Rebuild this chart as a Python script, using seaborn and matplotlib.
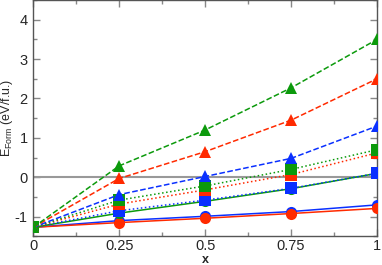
import numpy as np
import pandas as pd
import matplotlib.pyplot as plt
import seaborn as sns
from matplotlib.ticker import MultipleLocator

x = [0, 0.25, 0.5, 0.75, 1]

# dashed lines, triangles
green_tri = [-1.27, 0.29, 1.20, 2.27, 3.50]
red_tri = [-1.27, -0.03, 0.65, 1.45, 2.50]
blue_tri = [-1.27, -0.44, 0.02, 0.48, 1.30]

# dotted lines, squares
green_sq = [-1.27, -0.58, -0.22, 0.20, 0.70]
red_sq = [-1.27, -0.68, -0.32, 0.07, 0.62]
blue_sq = [-1.27, -0.85, -0.58, -0.28, 0.10]

# solid lines, circles
green_ci = [-1.27, -0.91, -0.61, -0.29, 0.10]
blue_ci = [-1.27, -1.10, -0.99, -0.87, -0.70]
red_ci = [-1.27, -1.15, -1.04, -0.92, -0.79]

GREEN = '#0c9a0c'
RED = '#ff2a00'
BLUE = '#0a30ff'

series = [
    ('blue_ci', blue_ci, BLUE, '-', 'o'),
    ('red_ci', red_ci, RED, '-', 'o'),
    ('green_ci', green_ci, GREEN, '-', 'o'),
    ('blue_sq', blue_sq, BLUE, ':', 's'),
    ('red_sq', red_sq, RED, ':', 's'),
    ('green_sq', green_sq, GREEN, ':', 's'),
    ('blue_tri', blue_tri, BLUE, '--', '^'),
    ('red_tri', red_tri, RED, '--', '^'),
    ('green_tri', green_tri, GREEN, '--', '^'),
]

sns.set_style("ticks")
plt.rcParams['font.family'] = ['Liberation Sans', 'DejaVu Sans']
plt.rcParams['mathtext.fontset'] = 'custom'
plt.rcParams['mathtext.rm'] = 'Liberation Sans'

fig = plt.figure(figsize=(3.82, 2.65), dpi=100)
ax = fig.add_axes([0.087, 0.108, 0.9, 0.892])

ax.axhline(0, color='#999999', lw=1.5, zorder=1)

for name, ys, col, ls, mk in series:
    df = pd.DataFrame({'x': x, 'y': ys})
    sns.lineplot(data=df, x='x', y='y', ax=ax, color=col, linestyle=ls,
                 marker=mk, markersize=8, markeredgewidth=0, lw=1.1,
                 zorder=3)

ax.set_xlim(0, 1)
ax.set_ylim(-1.5, 4.5)
ax.xaxis.set_major_locator(MultipleLocator(0.25))
ax.xaxis.set_minor_locator(MultipleLocator(0.125))
ax.yaxis.set_major_locator(MultipleLocator(1))
ax.yaxis.set_minor_locator(MultipleLocator(0.5))
ax.set_xticks([0, 0.25, 0.5, 0.75, 1])
ax.set_xticklabels(['0', '0.25', '0.5', '0.75', '1'])
ax.set_yticks([-1, 0, 1, 2, 3, 4])
ax.set_yticklabels(['-1', '0', '1', '2', '3', '4'])

ax.tick_params(which='both', direction='in', top=True, right=True,
               color='#888888', labelsize=10.5)
ax.tick_params(axis='x', pad=2)
ax.tick_params(axis='y', pad=4)
ax.tick_params(which='major', length=5, width=1)
ax.tick_params(which='minor', length=3, width=1)
for s in ax.spines.values():
    s.set_color('#555555')
    s.set_linewidth(1)

ax.set_xlabel('x', fontsize=9, fontweight='bold')
ax.xaxis.set_label_coords(0.5, -0.075)
ax.set_ylabel(r'E$_{\mathregular{Form}}$ (eV/f.u.)', fontsize=9)
ax.yaxis.set_label_coords(-0.052, 0.5)

fig.savefig('out.png', dpi=100)
